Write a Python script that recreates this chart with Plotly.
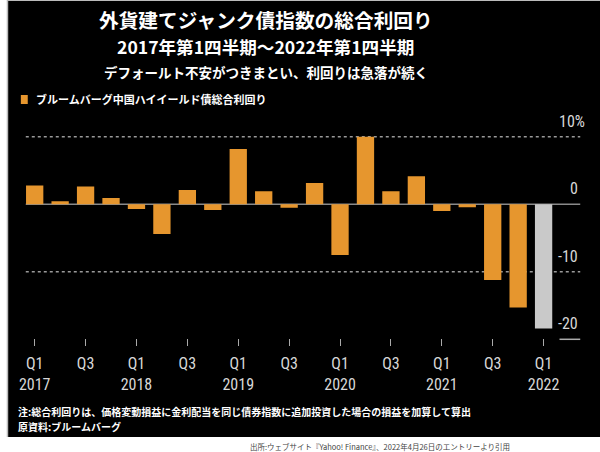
import plotly.graph_objects as go

# ---- data ----
quarters = ["2017Q1", "2017Q2", "2017Q3", "2017Q4",
            "2018Q1", "2018Q2", "2018Q3", "2018Q4",
            "2019Q1", "2019Q2", "2019Q3", "2019Q4",
            "2020Q1", "2020Q2", "2020Q3", "2020Q4",
            "2021Q1", "2021Q2", "2021Q3", "2021Q4",
            "2022Q1"]
total_return = [2.8, 0.45, 2.65, 0.95,
                -0.7, -4.4, 2.1, -0.85,
                8.2, 1.95, -0.5, 3.15,
                -7.5, 10.0, 1.95, 4.15,
                -1.0, -0.45, -11.2, -15.3,
                -18.4]
tick_idx = [0, 2, 4, 6, 8, 10, 12, 14, 16, 18, 20]
tick_text = ["Q1<br>2017", "Q3", "Q1<br>2018", "Q3", "Q1<br>2019", "Q3",
             "Q1<br>2020", "Q3", "Q1<br>2021", "Q3", "Q1<br>2022"]
y_label_vals = [10, 0, -10, -20]
y_label_text = ["10%", "0", "-10", "-20"]

ORANGE = "#E6962E"
GREY_BAR = "#C9C9C9"
W, H = 600, 452


def px(x):
    return x / W


def py(y):
    return 1 - y / H


colors = [ORANGE] * (len(total_return) - 1) + [GREY_BAR]
xs = list(range(len(quarters)))

fig = go.Figure()
fig.add_trace(go.Bar(x=xs, y=total_return, marker=dict(color=colors, line=dict(width=0)),
                     width=0.68, hovertext=quarters, showlegend=False))

num_font = "Liberation Sans Narrow, Roboto Condensed, Arial Narrow, sans-serif"
jp_font = "Noto Sans CJK JP, sans-serif"

fig.update_layout(
    width=W, height=H,
    margin=dict(l=0, r=0, t=0, b=0),
    paper_bgcolor="white",
    plot_bgcolor="rgba(0,0,0,0)",
    xaxis=dict(domain=[px(19), px(580)], range=[-0.35, 21.44],
               anchor="free", position=py(338),
               tickvals=tick_idx, ticktext=tick_text,
               ticks="outside", ticklen=7, tickwidth=1, tickcolor="#aaaaaa",
               ticklabelstandoff=4,
               showline=False, showgrid=False, zeroline=False,
               tickfont=dict(family=num_font, size=16, color="#d8d8d8")),
    yaxis=dict(domain=[py(342), py(110)], range=[-20.4, 13.97],
               showticklabels=False, showgrid=False, zeroline=False, ticks=""),
    bargap=0.32,
)

shapes = []
# black panel
shapes.append(dict(type="rect", xref="paper", yref="paper", x0=0, x1=1,
                   y0=py(437), y1=1, fillcolor="black", line=dict(width=0), layer="below"))
shapes.append(dict(type="line", xref="paper", yref="paper", x0=0.0008, x1=0.0008,
                   y0=py(437), y1=1, line=dict(color="#bbbbbb", width=1.5), layer="below"))
shapes.append(dict(type="line", xref="paper", yref="paper", x0=0, x1=1,
                   y0=0.9992, y1=0.9992, line=dict(color="#bbbbbb", width=1.5), layer="below"))
# gridlines
for v in [10, -10]:
    shapes.append(dict(type="line", xref="x domain", yref="y", x0=0, x1=1, y0=v, y1=v,
                       line=dict(color="#9a9a9a", width=1.5, dash="dot"), layer="below"))
shapes.append(dict(type="line", xref="x domain", yref="y", x0=0, x1=1, y0=0, y1=0,
                   line=dict(color="#8a8a8a", width=1.5), layer="below"))
shapes.append(dict(type="line", xref="x domain", yref="y", x0=(559 - 19) / 561, x1=1,
                   y0=-20, y1=-20, line=dict(color="#aaaaaa", width=1.5)))
# legend swatch
shapes.append(dict(type="rect", xref="paper", yref="paper", x0=px(14), x1=px(21),
                   y0=py(104), y1=py(95), fillcolor=ORANGE, line=dict(width=0)))
fig.update_layout(shapes=shapes)

TX = px(262)
ann = []
ann.append(dict(text="<b>外貨建てジャンク債指数の総合利回り</b>", x=TX, y=py(20),
                font=dict(family=jp_font, size=19.7, color="white")))
ann.append(dict(text="<b>2017年第1四半期～2022年第1四半期</b>", x=TX, y=py(46),
                font=dict(family=jp_font, size=17.6, color="white")))
ann.append(dict(text="<b>デフォールト不安がつきまとい、利回りは急落が続く</b>", x=TX, y=py(72),
                font=dict(family=jp_font, size=13.5, color="white")))
ann.append(dict(text="<b>ブルームバーグ中国ハイイールド債総合利回り</b>", x=px(27), y=py(99),
                xanchor="left", font=dict(family=jp_font, size=11, color="white")))
ann.append(dict(text="<b>注:総合利回りは、価格変動損益に金利配当を同じ債券指数に追加投資した場合の損益を加算して算出</b>",
                x=px(9), y=py(411), xanchor="left",
                font=dict(family=jp_font, size=10, color="white")))
ann.append(dict(text="<b>原資料:ブルームバーグ</b>", x=px(9), y=py(426), xanchor="left",
                font=dict(family=jp_font, size=10, color="white")))
ann.append(dict(text="出所:ウェブサイト『Yahoo! Finance』、2022年4月26日のエントリーより引用",
                x=px(511), y=py(446), xanchor="right",
                font=dict(family=jp_font, size=7.5, color="#444444")))
for a in ann:
    a.setdefault("xref", "paper")
    a.setdefault("yref", "paper")
    a.setdefault("xanchor", "center")
    a.setdefault("yanchor", "middle")
    a["showarrow"] = False

for v, t in zip(y_label_vals, y_label_text):
    xr = px(587) if t.endswith("%") else px(580)
    ann.append(dict(text=t, xref="paper", yref="y", x=xr, y=v, xanchor="right",
                    yanchor="middle", yshift=15.5, showarrow=False,
                    font=dict(family=num_font, size=16, color="#d8d8d8")))
fig.update_layout(annotations=ann)

fig.write_html("out.html", config={"displayModeBar": False},
               post_script="document.body.style.margin='0';document.body.style.padding='0';")
